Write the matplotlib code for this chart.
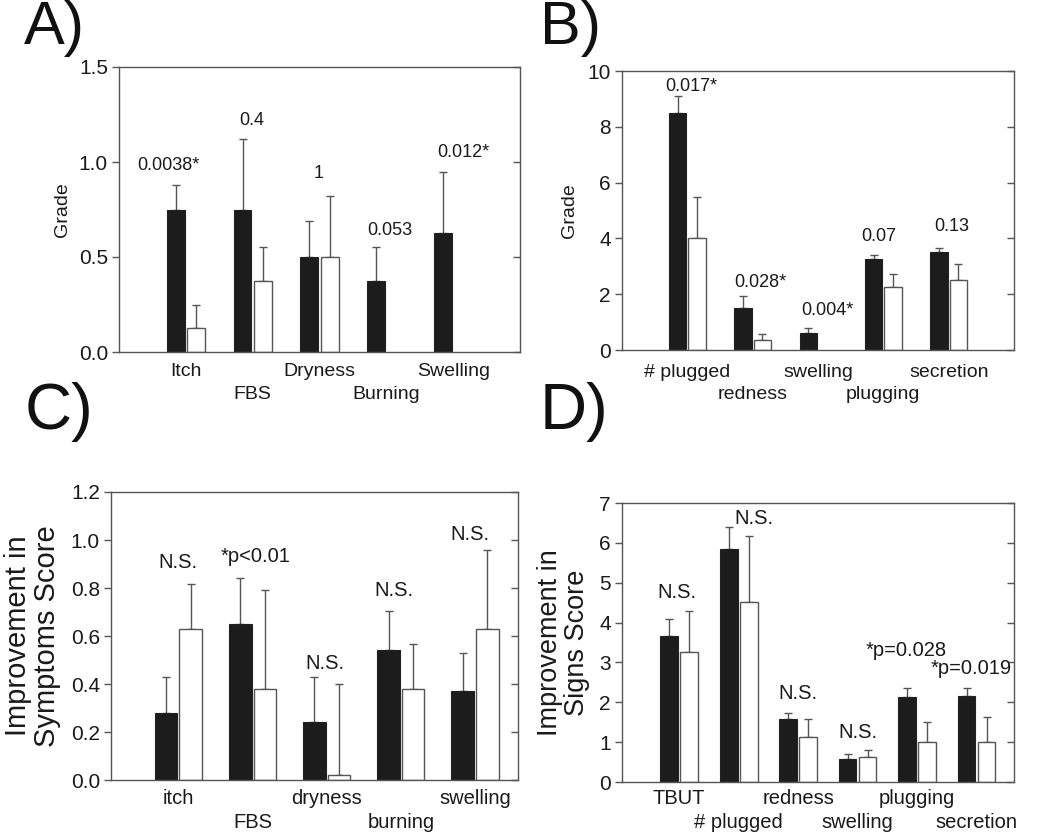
import matplotlib
matplotlib.use("Agg")
import matplotlib.pyplot as plt
import numpy as np

plt.rcParams['font.family'] = ['Liberation Sans', 'DejaVu Sans']

nan = np.nan

# A) symptom grades
a_cats = ['Itch', 'FBS', 'Dryness', 'Burning', 'Swelling']
a_black = [0.75, 0.75, 0.5, 0.375, 0.625]
a_black_err = [0.13, 0.37, 0.19, 0.18, 0.325]
a_white = [0.125, 0.375, 0.5, nan, nan]
a_white_err = [0.125, 0.18, 0.32, nan, nan]
a_notes = ['0.0038*', '0.4', '1', '0.053', '0.012*']

# B) sign grades
b_cats = ['# plugged', 'redness', 'swelling', 'plugging', 'secretion']
b_black = [8.5, 1.5, 0.62, 3.25, 3.5]
b_black_err = [0.62, 0.42, 0.18, 0.16, 0.17]
b_white = [4.0, 0.37, nan, 2.25, 2.5]
b_white_err = [1.47, 0.19, nan, 0.49, 0.6]
b_notes = ['0.017*', '0.028*', '0.004*', '0.07', '0.13']

# C) improvement in symptoms
c_cats = ['itch', 'FBS', 'dryness', 'burning', 'swelling']
c_black = [0.28, 0.65, 0.24, 0.54, 0.37]
c_black_err = [0.15, 0.19, 0.19, 0.165, 0.158]
c_white = [0.63, 0.38, 0.02, 0.38, 0.63]
c_white_err = [0.186, 0.413, 0.379, 0.185, 0.327]
c_notes = ['N.S.', '*p<0.01', 'N.S.', 'N.S.', 'N.S.']

# D) improvement in signs
d_cats = ['TBUT', '# plugged', 'redness', 'swelling', 'plugging', 'secretion']
d_black = [3.67, 5.85, 1.59, 0.57, 2.13, 2.15]
d_black_err = [0.43, 0.55, 0.15, 0.13, 0.23, 0.22]
d_white = [3.25, 4.51, 1.13, 0.63, 1.0, 1.0]
d_white_err = [1.04, 1.66, 0.45, 0.17, 0.51, 0.63]
d_notes = ['N.S.', 'N.S.', 'N.S.', 'N.S.', '*p=0.028', '*p=0.019']

W, H = 1050, 834
fig = plt.figure(figsize=(W / 100, H / 100), dpi=100)

EDGE = '#555555'
TXT = '#1a1a1a'


def px_axes(left, top, right, bottom):
    return fig.add_axes([left / W, 1 - bottom / H, (right - left) / W, (bottom - top) / H])


def panel(ax, cats, black, black_err, white, white_err, notes, note_xy,
          ylim, yticks, ylabel, xlim, width, off, tick_fs, lab_fs, note_fs,
          ylab_x, rows_px):
    x = np.arange(1, len(cats) + 1)
    ax.bar(x - off, black, width, color='#1c1c1c', edgecolor='#222222', linewidth=0.8, zorder=2)
    ax.bar(x + off, white, width, color='white', edgecolor=EDGE, linewidth=1.0, zorder=2)
    ax.errorbar(x - off, black, yerr=[np.zeros(len(x)), black_err], fmt='none',
                ecolor=EDGE, elinewidth=1.0, capsize=3, capthick=1.0, zorder=1)
    ax.errorbar(x + off, white, yerr=[np.zeros(len(x)), white_err], fmt='none',
                ecolor=EDGE, elinewidth=1.0, capsize=3, capthick=1.0, zorder=1)
    for t, (nx, ny) in zip(notes, note_xy):
        ax.text(nx, ny, t, ha='center', va='center', fontsize=note_fs, color=TXT)
    ax.set_xlim(*xlim)
    ax.set_ylim(*ylim)
    ax.set_yticks(yticks)
    ax.set_xticks([])
    # category names in two staggered rows below the axis
    for i, c in enumerate(cats):
        dy = rows_px[i % 2] * 72 / 100
        ax.annotate(c, (x[i], 0), xycoords=('data', 'axes fraction'),
                    xytext=(0, -dy), textcoords='offset points',
                    ha='center', va='center', fontsize=lab_fs, color=TXT)
    ax.tick_params(axis='y', direction='out', length=5, width=1, color=EDGE,
                   labelsize=tick_fs, labelcolor=TXT, pad=3)
    for s in ax.spines.values():
        s.set_color(EDGE)
        s.set_linewidth(1.0)
    right = ax.secondary_yaxis('right')
    right.set_yticks(yticks)
    right.tick_params(direction='in', length=5, width=1, color=EDGE, labelright=False)
    right.spines['right'].set_visible(False)
    ax.text(ylab_x, 0.5, ylabel[0], transform=ax.transAxes, rotation=90,
            ha='center', va='center', fontsize=ylabel[1], color=TXT,
            linespacing=1.05)


axA = px_axes(119, 67, 520, 352)
panel(axA, a_cats, a_black, a_black_err, a_white, a_white_err, a_notes,
      [(0.74, 0.98), (1.99, 1.22), (2.98, 0.94), (4.05, 0.64), (5.15, 1.05)],
      (0, 1.5), [0, 0.5, 1.0, 1.5], ('Grade', 14), (0, 6), 0.265, 0.152,
      15, 14, 13, -0.142, (19, 42))
axA.set_yticklabels(['0.0', '0.5', '1.0', '1.5'])

axB = px_axes(622, 71, 1014, 350)
panel(axB, b_cats, b_black, b_black_err, b_white, b_white_err, b_notes,
      [(1.06, 9.46), (2.12, 2.41), (3.14, 1.41), (3.93, 4.06), (5.04, 4.44)],
      (0, 10), [0, 2, 4, 6, 8, 10], ('Grade', 14), (0, 6), 0.265, 0.15,
      15, 14, 13, -0.135, (22, 44))

axC = px_axes(111, 492, 518, 780)
panel(axC, c_cats, c_black, c_black_err, c_white, c_white_err, c_notes,
      [(0.99, 0.908), (2.04, 0.93), (2.98, 0.487), (3.90, 0.788), (4.93, 1.025)],
      (0, 1.2), [0, 0.2, 0.4, 0.6, 0.8, 1.0, 1.2],
      ('Improvement in\nSymptoms Score', 21), (0.09, 5.58), 0.305, 0.166,
      15, 14.5, 14.5, -0.193, (19, 43))
axC.set_yticklabels(['0.0', '0.2', '0.4', '0.6', '0.8', '1.0', '1.2'])

axD = px_axes(622, 503, 1014, 782)
panel(axD, d_cats, d_black, d_black_err, d_white, d_white_err, d_notes,
      [(0.96, 4.75), (2.25, 6.62), (2.99, 2.22), (4.01, 1.23), (4.82, 3.31), (5.91, 2.85)],
      (0, 7), [0, 1, 2, 3, 4, 5, 6, 7],
      ('Improvement in\nSigns Score', 19.5), (0.04, 6.63), 0.30, 0.168,
      15, 14.5, 14.5, -0.149, (17, 41))

for lab, lx, ly, fs in [('A)', 24, 0, 44), ('B)', 540, 0, 44),
                        ('C)', 25, 382, 47), ('D)', 540, 382, 47)]:
    fig.text(lx / W, 1 - ly / H, lab, ha='left', va='top', fontsize=fs, color='#111111')

fig.savefig('out.png', dpi=100)
